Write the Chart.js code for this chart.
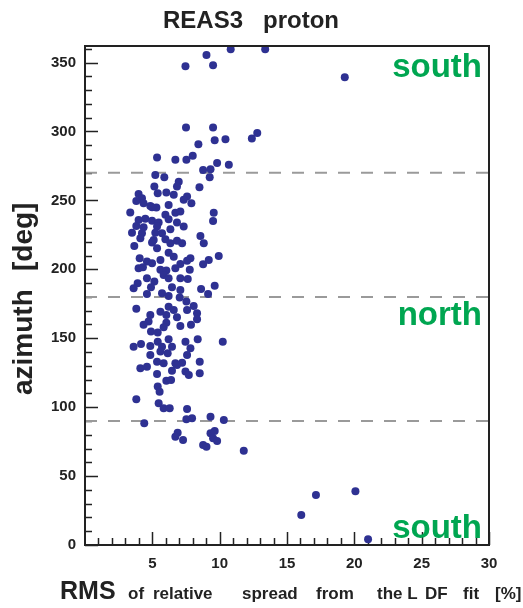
<!DOCTYPE html>
<html lang="en">
<head>
<meta charset="UTF-8">
<title>REAS3 proton</title>
<script src="https://cdn.jsdelivr.net/npm/chart.js"></script>
<style>
  html, body { margin:0; padding:0; background:#fff; }
</style>
</head>
<body>
<canvas id="reas" width="523" height="608"></canvas>
<script>
// RMS of relative spread [%] and azimuth [deg] per event
const rms = [
  10.82, 9.02, 7.46, 9.51, 13.38, 19.29, 12.39, 12.79, 7.5, 9.51,
  8.42, 9.63, 10.43, 5.35, 6.71, 7.53, 8.0, 9.81, 10.68, 8.77,
  9.32, 5.22, 5.89, 9.26, 8.5, 5.15, 6.96, 6.83, 3.98, 4.23,
  3.81, 5.4, 6.04, 6.59, 7.58, 7.33, 7.9, 4.85, 5.3, 6.21,
  4.35, 3.36, 4.98, 5.97, 6.71, 7.08, 9.56, 9.51, 3.98, 4.48,
  4.98, 5.47, 6.21, 6.83, 3.81, 4.35, 5.35, 6.34, 7.33, 3.49,
  4.23, 5.22, 5.72, 8.57, 4.11, 5.1, 5.97, 6.83, 7.21, 8.82,
  6.34, 4.98, 3.66, 5.35, 6.21, 6.59, 4.06, 4.6, 5.6, 4.98,
  7.08, 7.58, 7.83, 9.19, 9.93, 8.77, 3.98, 4.3, 5.6, 6.04,
  6.71, 7.78, 5.84, 6.21, 4.6, 7.08, 7.63, 5.15, 3.91, 3.61,
  4.9, 6.46, 7.08, 8.62, 9.63, 9.14, 4.6, 5.72, 6.21, 7.03,
  7.53, 8.07, 3.81, 5.6, 6.21, 6.59, 7.58, 8.32, 4.85, 6.04,
  6.83, 8.32, 4.72, 6.04, 4.35, 5.84, 7.08, 7.87, 4.9, 5.4,
  3.61, 4.16, 4.85, 5.4, 5.72, 6.21, 6.46, 7.46, 8.37, 7.83,
  10.23, 4.85, 5.6, 6.14, 7.58, 5.35, 5.84, 6.71, 7.21, 8.52,
  4.11, 4.6, 6.83, 5.35, 6.46, 7.46, 7.71, 8.52, 6.04, 6.39,
  5.4, 5.54, 3.81, 5.47, 5.84, 6.29, 7.58, 7.53, 7.95, 9.32,
  10.31, 4.4, 6.88, 6.71, 7.28, 9.32, 9.63, 9.51, 9.81, 8.77,
  9.02, 11.79, 17.15, 20.08, 16.06, 21.02
];
const azimuth = [
  359.6, 355.4, 347.4, 348.1, 359.7, 339.4, 294.9, 298.8, 302.8, 302.8,
  290.8, 293.7, 294.4, 281.1, 279.4, 279.4, 282.3, 277.2, 275.8, 272.1,
  272.6, 268.5, 266.8, 266.8, 259.6, 260.0, 263.6, 260.0, 254.7, 251.6,
  249.6, 255.2, 255.7, 254.0, 252.8, 250.4, 248.0, 246.0, 244.8, 246.7,
  248.0, 241.2, 245.0, 239.5, 241.1, 241.9, 241.1, 235.1, 235.8, 236.6,
  235.3, 233.9, 236.3, 233.9, 231.5, 230.5, 231.0, 229.1, 231.0, 226.6,
  226.2, 226.6, 226.2, 224.2, 222.6, 221.3, 221.8, 220.8, 218.9, 218.9,
  218.9, 219.4, 217.0, 215.3, 212.1, 209.2, 208.0, 205.6, 206.8, 204.4,
  203.9, 206.3, 208.0, 206.8, 209.7, 203.7, 200.8, 201.5, 199.6, 199.1,
  200.8, 199.6, 195.9, 193.5, 193.5, 193.5, 193.0, 191.1, 189.9, 186.3,
  187.0, 187.0, 185.0, 185.8, 188.0, 182.1, 182.1, 182.6, 180.7, 179.5,
  176.6, 173.4, 171.3, 169.3, 172.9, 170.5, 170.5, 168.1, 166.9, 166.9,
  165.2, 163.8, 162.1, 161.3, 159.7, 158.0, 158.9, 159.7, 154.8, 154.1,
  143.9, 145.9, 144.4, 147.5, 143.9, 149.3, 143.9, 147.5, 149.3, 142.7,
  147.5, 137.9, 140.3, 139.1, 137.9, 133.0, 131.9, 131.9, 132.3, 133.0,
  128.2, 129.4, 130.6, 124.1, 126.5, 125.8, 123.4, 124.6, 119.2, 119.7,
  114.9, 111.2, 105.7, 102.8, 99.2, 99.2, 98.7, 91.2, 91.9, 93.1,
  90.7, 88.3, 81.5, 78.6, 76.2, 81.0, 82.7, 77.4, 75.5, 72.6,
  71.3, 68.4, 36.3, 39.0, 21.8, 4.1
];
const xTickValues = [5, 10, 15, 20, 25, 30];
const yTickValues = [0, 50, 100, 150, 200, 250, 300, 350];
const sectorBounds = [90, 180, 270];
const regionNames = ['south', 'north', 'south'];

const points = rms.map((v, i) => ({ x: v, y: azimuth[i] }));
const boundSets = sectorBounds.map(b => ({
  type: 'line',
  data: [{ x: 0, y: b }, { x: 30, y: b }],
  borderColor: '#9a9a9a',
  borderWidth: 2,
  borderDash: [12, 11],
  pointRadius: 0,
  order: 2
}));

const FONT = "'Liberation Sans', Arial, sans-serif";

// ROOT style frame, inside ticks and the texts
const rootDecor = {
  id: 'rootDecor',
  beforeDatasetsDraw(chart) {
    const { ctx, chartArea: a, scales: { x, y } } = chart;
    ctx.save();
    ctx.strokeStyle = '#222';
    ctx.lineWidth = 1.5;
    ctx.beginPath();
    for (let v = 0; v <= 360; v += 10) {
      const py = Math.round(y.getPixelForValue(v)) + 0.5;
      const len = v % 50 === 0 ? 13 : 7;
      ctx.moveTo(a.left, py); ctx.lineTo(a.left + len, py);
    }
    for (let v = 1; v <= 30; v++) {
      const px = Math.round(x.getPixelForValue(v)) + 0.5;
      const len = v % 5 === 0 ? 13 : 7;
      ctx.moveTo(px, a.bottom); ctx.lineTo(px, a.bottom - len);
    }
    ctx.stroke();
    ctx.restore();
  },
  afterDraw(chart) {
    const { ctx, chartArea: a } = chart;
    ctx.save();
    ctx.strokeStyle = '#222';
    ctx.lineWidth = 2;
    ctx.strokeRect(a.left, a.top, a.right - a.left, a.bottom - a.top);

    ctx.fillStyle = '#222';
    ctx.textBaseline = 'alphabetic';
    ctx.textAlign = 'left';
    ctx.font = 'bold 24px ' + FONT;
    ctx.fillText('REAS3', 163, 28);
    ctx.fillText('proton', 263, 28);

    ctx.save();
    ctx.translate(32, 0);
    ctx.rotate(-Math.PI / 2);
    ctx.font = 'bold 28px ' + FONT;
    ctx.fillText('azimuth', -395, 0);
    ctx.fillText('[deg]', -271, 0);
    ctx.restore();

    ctx.font = 'bold 25px ' + FONT;
    ctx.fillText('RMS', 60, 599);
    ctx.font = 'bold 17px ' + FONT;
    const words = [['of', 128], ['relative', 153], ['spread', 242], ['from', 316],
                   ['the L', 377], ['DF', 425], ['fit', 463], ['[%]', 495]];
    words.forEach(([w, px]) => ctx.fillText(w, px, 599));

    ctx.fillStyle = '#00a651';
    ctx.textAlign = 'right';
    ctx.font = 'bold 33px ' + FONT;
    const baselines = [77, 325, 538];
    regionNames.forEach((n, i) => ctx.fillText(n, a.right - 7, baselines[i]));
    ctx.restore();
  }
};

new Chart(document.getElementById('reas'), {
  type: 'scatter',
  data: {
    datasets: [
      {
        data: points,
        backgroundColor: '#2e3192',
        borderWidth: 0,
        pointRadius: 4,
        order: 1
      },
      ...boundSets
    ]
  },
  options: {
    responsive: false,
    devicePixelRatio: 1,
    animation: false,
    layout: { padding: { top: 46, right: 34, left: 0, bottom: 0 } },
    plugins: { legend: { display: false }, tooltip: { enabled: false } },
    scales: {
      x: {
        type: 'linear', min: 0, max: 30,
        afterFit: s => { s.height = 63; },
        afterBuildTicks: s => { s.ticks = xTickValues.map(v => ({ value: v })); },
        grid: { display: false, drawTicks: false, tickLength: 0 },
        border: { display: false },
        ticks: { color: '#222', padding: 10, maxRotation: 0, font: { family: FONT, size: 15, weight: 'bold' } }
      },
      y: {
        type: 'linear', min: 0, max: 362,
        afterFit: s => { s.width = 85; },
        afterBuildTicks: s => { s.ticks = yTickValues.map(v => ({ value: v })); },
        grid: { display: false, drawTicks: false, tickLength: 0 },
        border: { display: false },
        ticks: { color: '#222', padding: 9, font: { family: FONT, size: 15, weight: 'bold' } }
      }
    }
  },
  plugins: [rootDecor]
});
</script>
</body>
</html>
